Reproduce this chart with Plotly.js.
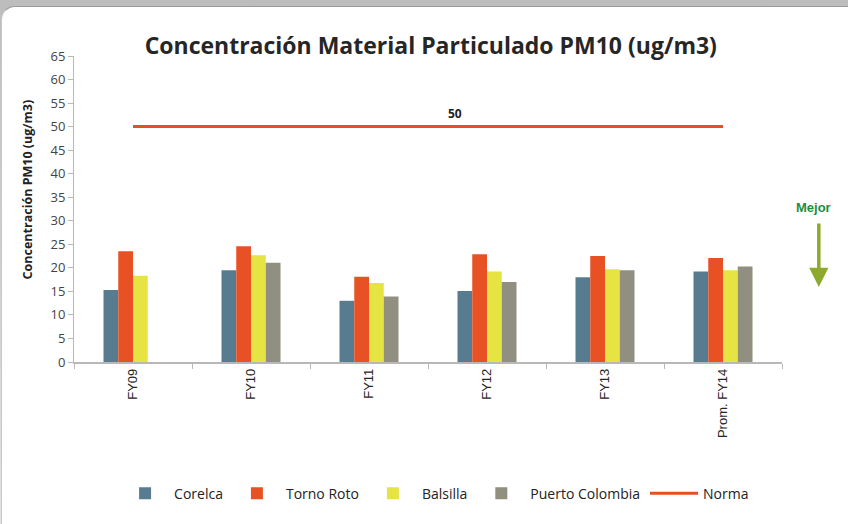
<!DOCTYPE html>
<html><head><meta charset="utf-8">
<script src="https://cdn.plot.ly/plotly-3.0.1.min.js"></script>
<style>
html,body{margin:0;padding:0;width:848px;height:524px;overflow:hidden;background:#fff;}
#frame{position:absolute;left:0;top:0;width:848px;height:524px;background:linear-gradient(#bdbdbd,#e2e2e2);}
#inner{position:absolute;left:1px;top:6px;width:847px;height:518px;background:#fff;border-top-left-radius:14px;border-left:1px solid #c8c8c8;border-top:1px solid #9a9a9a;}
#chart{position:absolute;left:0;top:0;width:848px;height:524px;}
</style></head>
<body><div id="frame"><div id="inner"></div></div><div id="chart"></div>
<script>
const categories = ["FY09","FY10","FY11","FY12","FY13","Prom. FY14"];
const corelca = [15.3, 19.5, 13.0, 15.1, 18.0, 19.2];
const tornoRoto = [23.5, 24.6, 18.1, 22.9, 22.5, 22.1];
const balsilla = [18.3, 22.7, 16.8, 19.2, 19.7, 19.5];
const puertoColombia = [null, 21.1, 13.9, 17.0, 19.5, 20.3];
const norma = [50, 50, 50, 50, 50, 50];
const yTicks = [0,5,10,15,20,25,30,35,40,45,50,55,60,65];

const bar = (name, y, color) => ({type:'bar', name, x:categories, y, marker:{color}});
const data = [
  bar('Corelca', corelca, '#587C8F'),
  bar('Torno Roto', tornoRoto, '#E85124'),
  bar('Balsilla', balsilla, '#E5E443'),
  bar('Puerto Colombia', puertoColombia, '#918F7F'),
  {type:'scatter', mode:'lines', name:'Norma', x:categories, y:norma, line:{color:'#E5501F', width:3}}
];
const layout = {
  width:848, height:524,
  paper_bgcolor:'rgba(0,0,0,0)', plot_bgcolor:'rgba(0,0,0,0)',
  margin:{l:74, r:66, t:56, b:162},
  font:{family:'Liberation Sans, Arial, sans-serif', color:'#333'},
  title:{text:'<b>Concentración Material Particulado PM10 (ug/m3)</b>', x:0.508, xanchor:'center', y:0.912, yanchor:'middle',
    font:{family:'Open Sans, sans-serif', size:23, color:'#262626'}},
  barmode:'group', bargap:0.5, bargroupgap:0,
  xaxis:{type:'category', tickangle:-90, showline:true, linecolor:'#b8b8b8', linewidth:1.5,
    ticks:'outside', tickson:'boundaries', ticklen:5, tickcolor:'#b8b8b8',
    tickfont:{size:13, color:'#262626', family:'Liberation Sans, Arial, sans-serif'}, showgrid:false},
  yaxis:{range:[0,65], tickvals:yTicks, showline:true, linecolor:'#b8b8b8', linewidth:1,
    ticks:'outside', ticklen:5, tickcolor:'#b8b8b8', showgrid:false, zeroline:false,
    tickfont:{size:13, color:'#444', family:'Open Sans, sans-serif'}},
  legend:{orientation:'h', x:0.51, xanchor:'center', y:-0.43, yanchor:'middle',
    font:{size:14, color:'#222', family:'Open Sans, sans-serif'}, traceorder:'normal', itemwidth:48},
  annotations:[
    {x:-0.066, y:0.565, xref:'paper', yref:'paper', xanchor:'center', yanchor:'middle', textangle:-90,
      text:'<b>Concentración PM10 (ug/m3)</b>', showarrow:false, font:{size:12.5, color:'#222', family:'Open Sans, sans-serif'}},
    {x:2.73, y:50, xref:'x', yref:'y', text:'<b>50</b>', showarrow:false, yshift:13, font:{size:12, color:'#222', family:'Open Sans, sans-serif'}},
    {x:1.044, y:0.504, xref:'paper', yref:'paper', xanchor:'center', yanchor:'middle', text:'<b>Mejor</b>', showarrow:false, font:{size:13, color:'#1E8E3E', family:'Liberation Sans, Arial, sans-serif'}},
    {x:1.052, y:0.245, xref:'paper', yref:'paper', ax:0, ay:-65, axref:'pixel', ayref:'pixel', text:'', showarrow:true,
      arrowhead:2, arrowsize:1.1, arrowwidth:3.5, arrowcolor:'#8DAA2E'}
  ]
};
Plotly.newPlot('chart', data, layout, {displayModeBar:false, staticPlot:true});
</script></body></html>
